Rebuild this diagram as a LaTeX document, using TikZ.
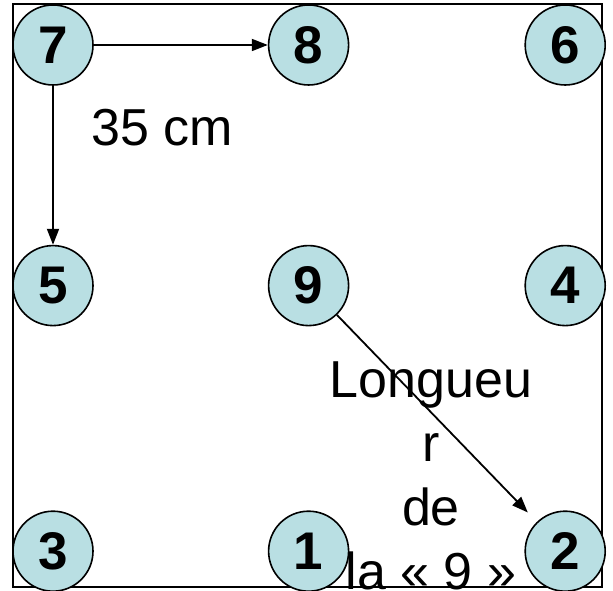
\documentclass[tikz,border=0pt]{standalone}
\usepackage{fontspec}
\setmainfont{Liberation Sans}
\usetikzlibrary{positioning,arrows.meta}
\definecolor{pastille}{RGB}{185,223,227}

\begin{document}
\begin{tikzpicture}[x=1pt, y=1pt,
    main/.style = {draw, circle, fill=pastille, line width=1.6pt, minimum size=80pt, inner sep=0pt, font=\fontsize{53}{60}\selectfont\bfseries},
    fleche/.style = {-{Triangle[length=16pt, width=12pt]}, line width=1.8pt},
    texte/.style = {font=\fontsize{52}{64}\selectfont, inner sep=0pt}]
    \useasboundingbox (0,0) rectangle (613,591);
    \draw[line width=1.6pt] (13,4) rectangle (602,587);
    \node[main] (7) at (53,546) {7};
    \node[main] (8) [right = 174pt of 7] {8};
    \node[main] (6) [right = 175pt of 8] {6};
    \node[main] (5) [below = 159pt of 7] {5};
    \node[main] (9) [right = 174pt of 5] {9};
    \node[main] (4) [right = 175pt of 9] {4};
    \node[main] (3) [below = 184pt of 5] {3};
    \node[main] (1) [right = 174pt of 3] {1};
    \node[main] (2) [right = 175pt of 1] {2};
    \node[texte, anchor=base west] (dist) at (91,445) {35 cm};
    \node[texte, align=center, anchor=base] (longueur) at (431,1) {Longueu\\r\\de\\la « 9 »};
    \draw[fleche] (7) -- (8);
    \draw[fleche] (7) -- (5);
    \draw[fleche, shorten >=13pt] (9) -- (2);
\end{tikzpicture}
\end{document}
